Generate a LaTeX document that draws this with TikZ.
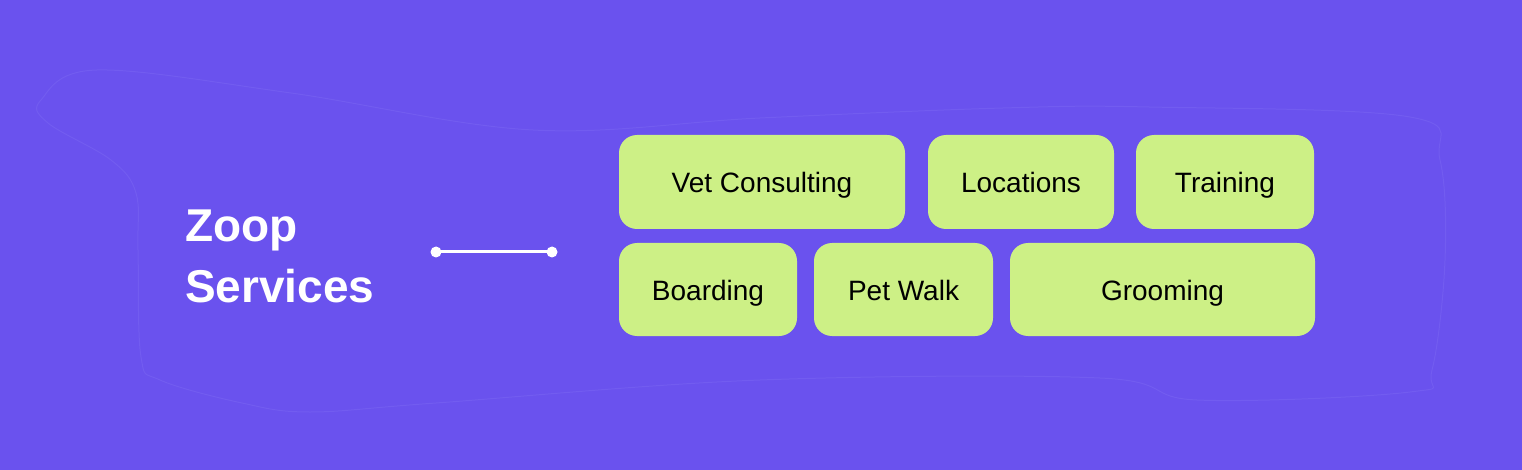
\documentclass[tikz,border=0pt]{standalone}
\usepackage{fontspec}
\setmainfont{Liberation Sans}
\definecolor{bgc}{RGB}{106,82,238}
\definecolor{blobc}{RGB}{114,92,240}
\definecolor{boxc}{RGB}{205,240,134}
\begin{document}
\begin{tikzpicture}[x=1pt,y=-1pt,
  svc/.style={draw=none,fill=boxc,rounded corners=18pt,inner sep=0pt,
    text height=22pt,text depth=0pt,
    font=\fontsize{28}{28}\selectfont,text=black},
  title/.style={anchor=base west,inner sep=0pt,text=white,
    font=\fontsize{46}{46}\selectfont\bfseries},
  dotc/.style={circle,fill=white,inner sep=0pt,minimum size=11pt}]
\useasboundingbox (0,0) rectangle (1522,470);
\fill[bgc] (0,0) rectangle (1522,470);
% faint background blob
\draw[blobc,line width=1pt] plot[smooth cycle,tension=0.6] coordinates {
  (97,70) (291,93) (533,130) (760,118) (1003,108) (1149,107) (1410,117)
  (1440,160) (1445,260) (1432,370) (1410,392) (1197,400) (1100,378)
  (760,380) (436,403) (310,412) (242,403) (160,380) (141,357) (138,250)
  (136,193) (111,160) (48,123) (41,100)};
% title
\node[title] (zoop) at (185,242) {Zoop};
\node[title] (services) at (185,302) {Services};
% connector
\node[dotc] (d1) at (436,252) {};
\node[dotc] (d2) at (552,252) {};
\draw[white,line width=3pt] (d1.center) -- (d2.center);
% service boxes
\node[svc,minimum width=286pt,minimum height=94pt] (vet) at (762,182) {Vet Consulting};
\node[svc,minimum width=186pt,minimum height=94pt] (loc) at (1021,182) {Locations};
\node[svc,minimum width=178pt,minimum height=94pt] (train) at (1225,182) {Training};
\node[svc,minimum width=178pt,minimum height=93pt] (board) at (708,289.5) {Boarding};
\node[svc,minimum width=179pt,minimum height=93pt] (walk) at (903.5,289.5) {Pet Walk};
\node[svc,minimum width=305pt,minimum height=93pt] (groom) at (1162.5,289.5) {Grooming};
\end{tikzpicture}
\end{document}
